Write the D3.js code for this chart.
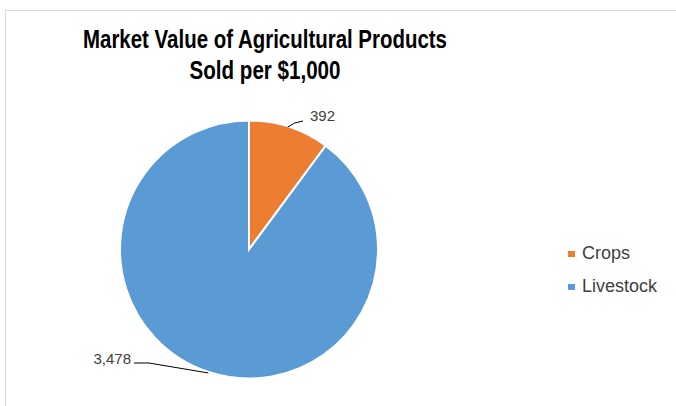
<!DOCTYPE html>
<html>
<head>
<meta charset="utf-8">
<script src="https://cdn.jsdelivr.net/npm/d3@7"></script>
<style>
  body { margin: 0; background: #fff; }
  text { font-family: "Liberation Sans", Arial, sans-serif; }
</style>
</head>
<body>
<div id="chart-area"></div>
<script>
var width = 676,
    height = 406;

// data
var categories = ["Crops", "Livestock"];
var values = [392, 3478];
var colors = ["#ED7D31", "#5B9BD5"];
var titleLines = ["Market Value of Agricultural Products", "Sold per $1,000"];

var svg = d3.select("#chart-area").append("svg")
    .attr("width", width)
    .attr("height", height);

// chart border
svg.append("rect")
    .attr("x", 5.5).attr("y", 10.5)
    .attr("width", width + 10).attr("height", height + 10)
    .style("fill", "none")
    .style("stroke", "#d9d9d9");

// title
var titleWidths = [364, 151];
svg.selectAll(".title")
    .data(titleLines)
    .enter()
    .append("text")
    .attr("class", "title")
    .attr("x", 265)
    .attr("y", (d, i) => 48 + i * 31)
    .attr("text-anchor", "middle")
    .attr("textLength", (d, i) => titleWidths[i])
    .attr("lengthAdjust", "spacingAndGlyphs")
    .style("font-size", "26px")
    .style("font-weight", "bold")
    .style("fill", "#000")
    .text(d => d);

var cx = 249, cy = 249.5, r = 129;

var pie = d3.pie().sort(null).value(d => d);
var arc = d3.arc().innerRadius(0).outerRadius(r);

var g = svg.append("g").attr("transform", "translate(" + cx + "," + cy + ")");

var arcs = pie(values);

g.selectAll(".slice")
    .data(arcs)
    .enter()
    .append("path")
    .attr("class", "slice")
    .attr("d", arc)
    .style("fill", (d, i) => colors[i])
    .style("stroke", "#fff")
    .style("stroke-width", 2);

// data labels with leader lines
var fmt = d3.format(",");
var labelPos = [
  {x: 310, y: 121, anchor: "start"},
  {x: 131, y: 364, anchor: "end"}
];

arcs.forEach(function(d, i) {
  var mid = (d.startAngle + d.endAngle) / 2;
  // point on the edge of the slice
  var px = cx + Math.sin(mid) * (r + 1),
      py = cy - Math.cos(mid) * (r + 1);
  var lp = labelPos[i];
  var pts;
  if (i == 0) {
    pts = [[px - 2, py + 1], [px + 5, py - 3], [lp.x - 7, py - 5]];
  } else {
    pts = [[px, py], [lp.x + 18, lp.y - 1], [lp.x + 3, lp.y - 1]];
  }
  svg.append("path")
      .attr("d", d3.line()(pts))
      .style("fill", "none")
      .style("stroke", "#000")
      .style("stroke-width", 1);

  svg.append("text")
      .attr("x", lp.x)
      .attr("y", lp.y)
      .attr("text-anchor", lp.anchor)
      .style("font-size", "15px")
      .style("fill", "#404040")
      .text(fmt(values[i]));
});

// legend
var legend = svg.selectAll(".legend")
    .data(categories)
    .enter()
    .append("g")
    .attr("class", "legend")
    .attr("transform", (d, i) => "translate(568," + (259 + i * 33) + ")");

legend.append("rect")
    .attr("x", 0).attr("y", -8)
    .attr("width", 7).attr("height", 6)
    .style("fill", (d, i) => colors[i]);

legend.append("text")
    .attr("x", 14)
    .attr("y", 0)
    .style("font-size", "18px")
    .style("fill", "#404040")
    .text(d => d);
</script>
</body>
</html>
